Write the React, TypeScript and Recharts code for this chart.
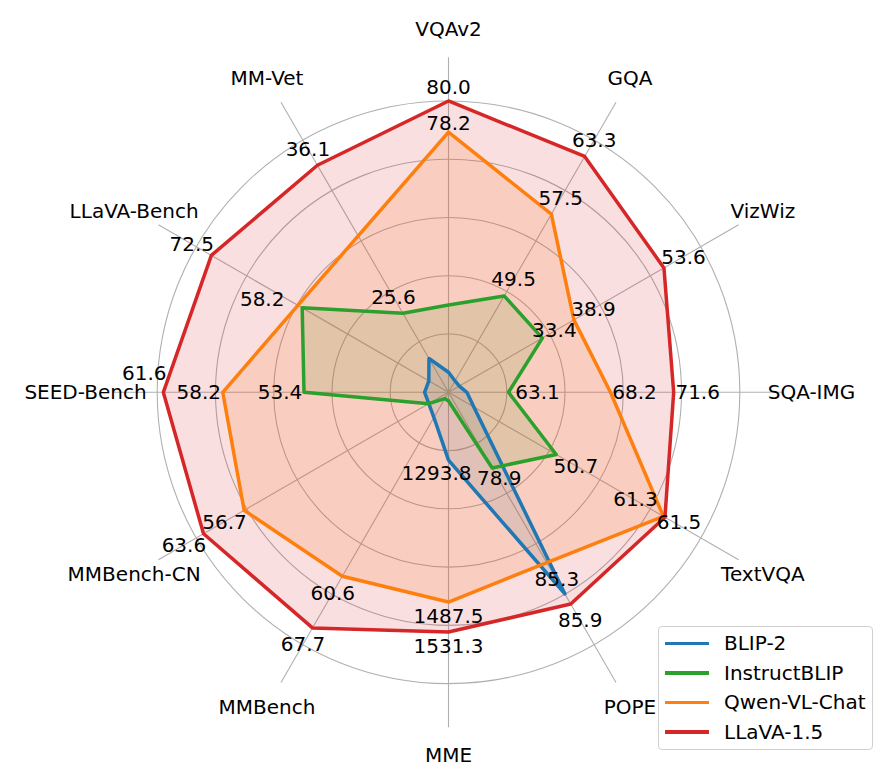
import React from "react";
import { PolarAngleAxis, PolarGrid, PolarRadiusAxis, Radar, RadarChart } from "recharts";

const axes = [
  "VQAv2", "GQA", "VizWiz", "SQA-IMG", "TextVQA", "POPE",
  "MME", "MMBench", "MMBench-CN", "SEED-Bench", "LLaVA-Bench", "MM-Vet",
];

// normalised radius of each model on each benchmark
const blip2 = [0.069, 0.045, 0.043, 0.063, 0.1, 0.799, 0.233, 0.1, 0.078, 0.082, 0.078, 0.134];
const instructBlip = [0.3, 0.382, 0.372, 0.206, 0.427, 0.3, 0.03, 0.025, 0.078, 0.496, 0.58, 0.313];
const qwenVl = [0.893, 0.706, 0.497, 0.556, 0.852, 0.675, 0.72, 0.729, 0.81, 0.775, 0.597, 0.62];
const llava = [1.0, 0.935, 0.854, 0.773, 0.858, 0.839, 0.823, 0.934, 0.971, 0.979, 0.94, 0.9];

// raw scores printed next to the points
const blip2Labels = [null, null, null, null, null, "85.3", "1293.8", null, null, null, null, null];
const instructBlipLabels = [null, "49.5", "33.4", "63.1", "50.7", "78.9", null, null, null, "53.4", "58.2", "25.6"];
const qwenVlLabels = ["78.2", "57.5", "38.9", "68.2", "61.3", null, "1487.5", "60.6", "56.7", "58.2", null, null];
const llavaLabels = ["80.0", "63.3", "53.6", "71.6", "61.5", "85.9", "1531.3", "67.7", "63.6", "61.6", "72.5", "36.1"];

const ringValues = [0.2, 0.4, 0.6, 0.8, 1.0];

const series = [
  { key: "blip2", name: "BLIP-2", color: "#1f77b4", values: blip2, labels: blip2Labels },
  { key: "instructBlip", name: "InstructBLIP", color: "#2ca02c", values: instructBlip, labels: instructBlipLabels },
  { key: "qwenVl", name: "Qwen-VL-Chat", color: "#ff7f0e", values: qwenVl, labels: qwenVlLabels },
  { key: "llava", name: "LLaVA-1.5", color: "#d62728", values: llava, labels: llavaLabels },
];

const data = axes.map((axis, i) => {
  const row: any = { axis };
  series.forEach((s) => (row[s.key] = s.values[i]));
  return row;
});

const CX = 448.5;
const CY = 392.3;
const OUTER = 335;
const RMAX = 1.15;
const FONT = "'DejaVu Sans', sans-serif";
const FS = 20;
const RAD = Math.PI / 180;

// a few labels were moved by hand in the original to avoid overlaps
const labelNudge: Record<string, [number, number]> = {
  "blip2-5": [-8, -15],
  "blip2-6": [-12, 13],
  "qwenVl-4": [-28, -17],
  "llava-4": [14, 5],
  "llava-9": [-19, -19],
  "instructBlip-10": [-40, -9],
  "instructBlip-2": [12, -8],
  "instructBlip-5": [7, 10],
  "qwenVl-0": [0, -9],
  "instructBlip-3": [29, 0],
};

const renderAxisTick = (props: any) => {
  const { payload } = props;
  const a = -payload.coordinate * RAD;
  const x = CX + 363 * Math.cos(a);
  const y = CY + 363 * Math.sin(a);
  return (
    <text x={x} y={y} textAnchor="middle" dominantBaseline="central" fill="#000" fontSize={FS} fontFamily={FONT}>
      {payload.value}
    </text>
  );
};

const makeLabelDot = (s: (typeof series)[number]) => (props: any) => {
  const { cx, cy, index } = props;
  const text = s.labels[index];
  if (!text) return <g key={`l-${s.key}-${index}`} />;
  const angle = (90 - index * 30) * RAD;
  const nudge = labelNudge[`${s.key}-${index}`];
  let x: number, y: number;
  if (nudge) {
    x = cx + nudge[0];
    y = cy + nudge[1];
  } else {
    const off = 14 + 10 * Math.abs(Math.cos(angle));
    x = cx + off * Math.cos(angle);
    y = cy - off * Math.sin(angle);
  }
  return (
    <text key={`l-${s.key}-${index}`} x={x} y={y} textAnchor="middle" dominantBaseline="central" fill="#000" fontSize={FS} fontFamily={FONT}>
      {text}
    </text>
  );
};

function Legend() {
  return (
    <div
      style={{
        position: "absolute",
        left: 658,
        top: 626,
        width: 215,
        height: 124,
        boxSizing: "border-box",
        border: "1px solid #d0d0d0",
        borderRadius: 4,
        background: "rgba(255,255,255,0.8)",
        fontFamily: FONT,
        fontSize: FS,
      }}
    >
      {series.map((s, i) => (
        <div key={s.key} style={{ position: "absolute", left: 0, top: 16.3 + 29.5 * i - 12, height: 24, width: 213 }}>
          <div style={{ position: "absolute", left: 6, top: 10.3, width: 44, height: 3.5, background: s.color }} />
          <div style={{ position: "absolute", left: 65, top: 0, lineHeight: "24px", color: "#000", whiteSpace: "nowrap" }}>
            {s.name}
          </div>
        </div>
      ))}
    </div>
  );
}

export default function App() {
  return (
    <div style={{ position: "absolute", left: 0, top: 0, width: 888, height: 774, background: "#fff" }}>
      <RadarChart
        width={888}
        height={774}
        data={data}
        cx={CX}
        cy={CY}
        outerRadius={OUTER}
        startAngle={90}
        endAngle={-270}
        margin={{ top: 0, right: 0, bottom: 0, left: 0 }}
      >
        <PolarGrid
          gridType="circle"
          polarRadius={ringValues.map((v) => (v / RMAX) * OUTER)}
          stroke="#b0b0b0"
          strokeWidth={1.1}
        />
        <PolarAngleAxis dataKey="axis" tick={renderAxisTick} tickLine={false} axisLine={false} />
        <PolarRadiusAxis domain={[0, RMAX]} tick={false} axisLine={false} />
        {/* fills first, then the outlines on top, then the value labels */}
        {series.map((s) => (
          <Radar
            key={`${s.key}-fill`}
            name={`${s.name} fill`}
            dataKey={s.key}
            stroke="none"
            fill={s.color}
            fillOpacity={0.15}
            dot={false}
            legendType="none"
            isAnimationActive={false}
          />
        ))}
        {series.map((s) => (
          <Radar
            key={s.key}
            name={s.name}
            dataKey={s.key}
            stroke={s.color}
            strokeWidth={3.5}
            strokeLinejoin="round"
            fill="none"
            dot={false}
            isAnimationActive={false}
          />
        ))}
        {series.map((s) => (
          <Radar
            key={`${s.key}-labels`}
            name={`${s.name} labels`}
            dataKey={s.key}
            stroke="none"
            fill="none"
            legendType="none"
            dot={makeLabelDot(s)}
            isAnimationActive={false}
          />
        ))}
      </RadarChart>
      <Legend />
    </div>
  );
}
